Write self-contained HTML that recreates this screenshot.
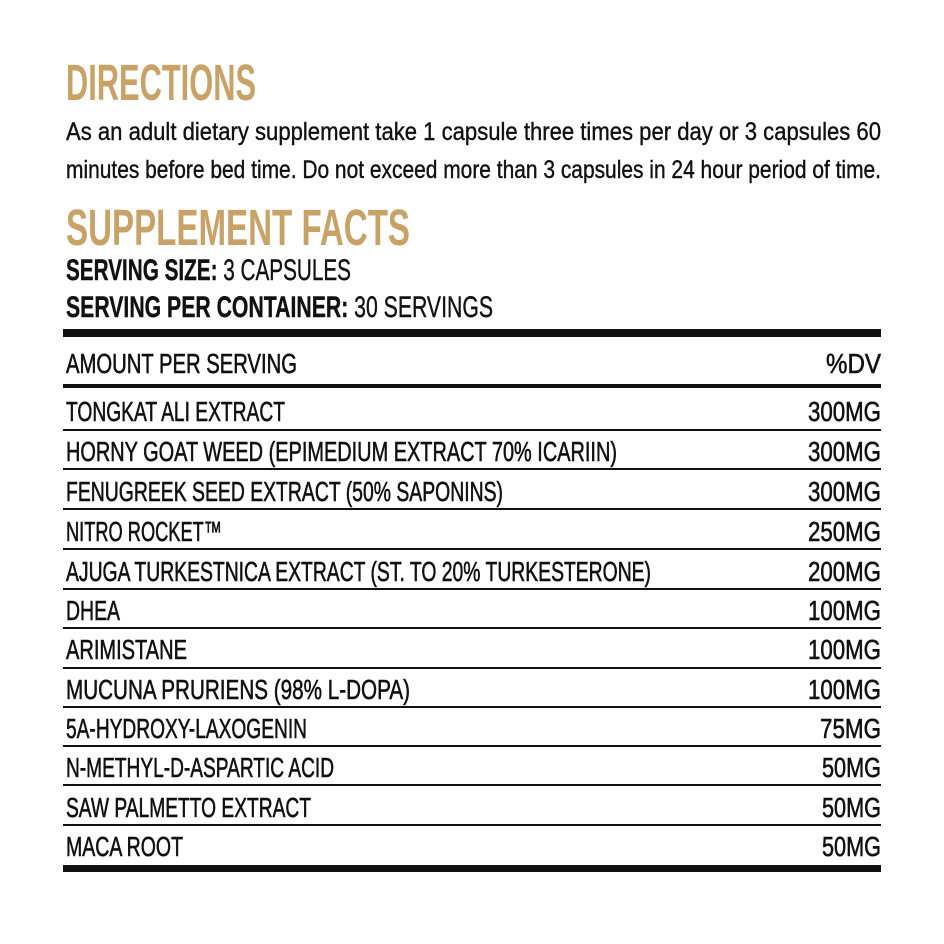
<!DOCTYPE html>
<html><head><meta charset="utf-8"><style>
html,body{margin:0;padding:0;background:#fff;}
svg{display:block}
text{font-family:"Liberation Sans",sans-serif;fill:#111;}
.g{fill:#c8a267;font-weight:bold;}
.b{font-weight:bold;}
.r{font-size:28px;stroke:#111;stroke-width:0.6;}
.t{stroke:#111;stroke-width:0.4;}
</style></head><body>
<svg width="944" height="944" viewBox="0 0 944 944" xmlns="http://www.w3.org/2000/svg">
<rect width="944" height="944" fill="#fff"/>
<text class="g" x="66" y="100" font-size="51" textLength="190" lengthAdjust="spacingAndGlyphs">DIRECTIONS</text>
<text class="t" x="66" y="140" font-size="25" textLength="815" lengthAdjust="spacingAndGlyphs">As an adult dietary supplement take 1 capsule three times per day or 3 capsules 60</text>
<text class="t" x="66" y="178" font-size="25" textLength="815" lengthAdjust="spacingAndGlyphs">minutes before bed time. Do not exceed more than 3 capsules in 24 hour period of time.</text>
<text class="g" x="66" y="245" font-size="51" textLength="344" lengthAdjust="spacingAndGlyphs">SUPPLEMENT FACTS</text>
<text class="t" x="66" y="280" font-size="30" textLength="285" lengthAdjust="spacingAndGlyphs"><tspan class="b">SERVING SIZE:</tspan> 3 CAPSULES</text>
<text class="t" x="66" y="317" font-size="30" textLength="427" lengthAdjust="spacingAndGlyphs"><tspan class="b">SERVING PER CONTAINER:</tspan> 30 SERVINGS</text>
<rect x="63" y="329" width="818" height="8" fill="#111"/>
<text class="r" x="66" y="373" textLength="231" lengthAdjust="spacingAndGlyphs">AMOUNT PER SERVING</text>
<text class="r" x="881" y="373" text-anchor="end" textLength="55" lengthAdjust="spacingAndGlyphs">%DV</text>
<rect x="63" y="384" width="818" height="4" fill="#111"/>
<g fill="#111">
<rect x="63" y="429" width="818" height="2"/>
<rect x="63" y="468" width="818" height="2"/>
<rect x="63" y="508" width="818" height="2"/>
<rect x="63" y="548" width="818" height="2"/>
<rect x="63" y="588" width="818" height="2"/>
<rect x="63" y="627" width="818" height="2"/>
<rect x="63" y="667" width="818" height="2"/>
<rect x="63" y="706" width="818" height="2"/>
<rect x="63" y="745" width="818" height="2"/>
<rect x="63" y="784" width="818" height="2"/>
<rect x="63" y="824" width="818" height="2"/>
</g>
<rect x="63" y="865" width="818" height="7" fill="#111"/>
<g>
<text class="r" x="66" y="421" textLength="219" lengthAdjust="spacingAndGlyphs">TONGKAT ALI EXTRACT</text>
<text class="r" x="66" y="461" textLength="551" lengthAdjust="spacingAndGlyphs">HORNY GOAT WEED (EPIMEDIUM EXTRACT 70% ICARIIN)</text>
<text class="r" x="66" y="501" textLength="437" lengthAdjust="spacingAndGlyphs">FENUGREEK SEED EXTRACT (50% SAPONINS)</text>
<text class="r" x="66" y="541" textLength="156" lengthAdjust="spacingAndGlyphs">NITRO ROCKET™</text>
<text class="r" x="66" y="581" textLength="585" lengthAdjust="spacingAndGlyphs">AJUGA TURKESTNICA EXTRACT (ST. TO 20% TURKESTERONE)</text>
<text class="r" x="66" y="620" textLength="54" lengthAdjust="spacingAndGlyphs">DHEA</text>
<text class="r" x="66" y="659" textLength="121" lengthAdjust="spacingAndGlyphs">ARIMISTANE</text>
<text class="r" x="66" y="699" textLength="344" lengthAdjust="spacingAndGlyphs">MUCUNA PRURIENS (98% L-DOPA)</text>
<text class="r" x="66" y="738" textLength="241" lengthAdjust="spacingAndGlyphs">5A-HYDROXY-LAXOGENIN</text>
<text class="r" x="66" y="777" textLength="268" lengthAdjust="spacingAndGlyphs">N-METHYL-D-ASPARTIC ACID</text>
<text class="r" x="66" y="817" textLength="245" lengthAdjust="spacingAndGlyphs">SAW PALMETTO EXTRACT</text>
<text class="r" x="66" y="856" textLength="117" lengthAdjust="spacingAndGlyphs">MACA ROOT</text>
</g>
<g>
<text class="r" x="808" y="421" textLength="73" lengthAdjust="spacingAndGlyphs">300MG</text>
<text class="r" x="808" y="461" textLength="73" lengthAdjust="spacingAndGlyphs">300MG</text>
<text class="r" x="808" y="501" textLength="73" lengthAdjust="spacingAndGlyphs">300MG</text>
<text class="r" x="808" y="541" textLength="73" lengthAdjust="spacingAndGlyphs">250MG</text>
<text class="r" x="808" y="581" textLength="73" lengthAdjust="spacingAndGlyphs">200MG</text>
<text class="r" x="808" y="620" textLength="73" lengthAdjust="spacingAndGlyphs">100MG</text>
<text class="r" x="808" y="659" textLength="73" lengthAdjust="spacingAndGlyphs">100MG</text>
<text class="r" x="808" y="699" textLength="73" lengthAdjust="spacingAndGlyphs">100MG</text>
<text class="r" x="820" y="738" textLength="61" lengthAdjust="spacingAndGlyphs">75MG</text>
<text class="r" x="822" y="777" textLength="59" lengthAdjust="spacingAndGlyphs">50MG</text>
<text class="r" x="822" y="817" textLength="59" lengthAdjust="spacingAndGlyphs">50MG</text>
<text class="r" x="822" y="856" textLength="59" lengthAdjust="spacingAndGlyphs">50MG</text>
</g>
</svg>
</body></html>
